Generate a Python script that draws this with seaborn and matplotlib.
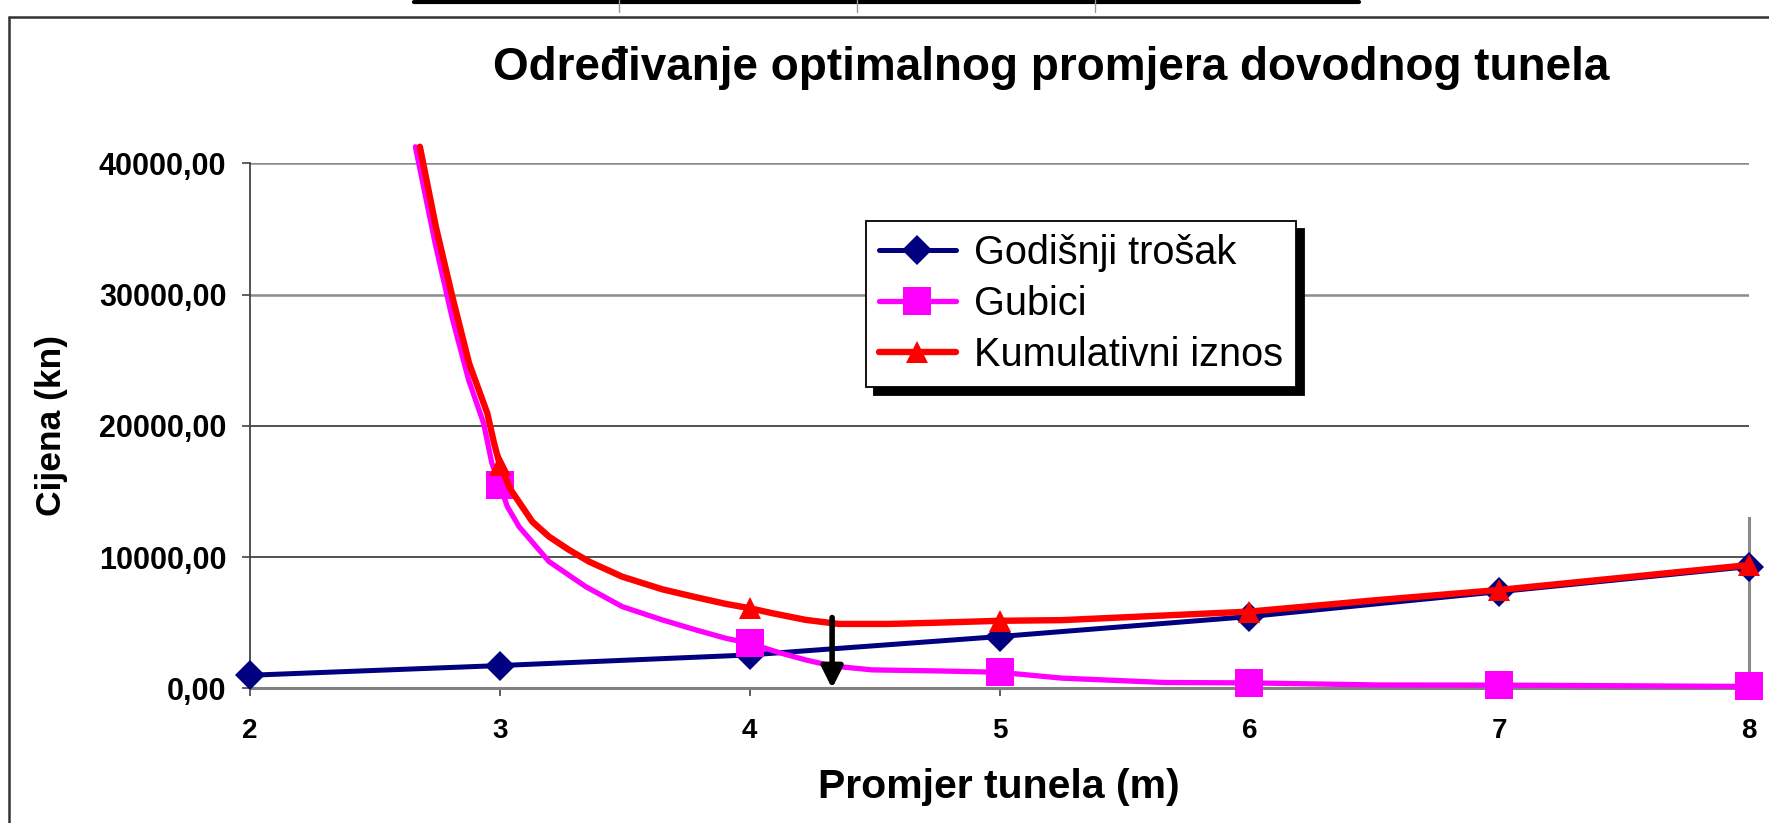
import numpy as np
import matplotlib
matplotlib.use('Agg')
import matplotlib.pyplot as plt
from matplotlib.lines import Line2D
from matplotlib.ticker import FuncFormatter
import seaborn as sns

# ── DATA ─────────────────────────────────────────────────────────────────────
# line vertices (Excel smoothed curve); markers sit on the integer diameters
promjer_trosak = [2, 3, 4, 5, 6, 7, 8]
godisnji_trosak = [1000, 1740, 2550, 3950, 5470, 7370, 9280]

promjer_gubici = [2.662, 2.741, 2.808, 2.875, 2.935, 2.968, 3.0, 3.03, 3.077,
                  3.197, 3.344, 3.49, 3.65, 3.784, 3.904, 4.0, 4.117, 4.224,
                  4.33, 4.49, 4.757, 5.0, 5.25, 5.66, 6.0, 6.52, 7.0, 8.0]
gubici = [41260, 33910, 28320, 23500, 20200, 17160, 15500, 13850, 12320,
          9660, 7750, 6230, 5220, 4460, 3820, 3440, 2730, 2170,
          1710, 1410, 1330, 1230, 780, 450, 420, 260, 250, 150]

promjer_kumul = [2.680, 2.744, 2.810, 2.877, 2.950, 2.977, 3.0, 3.044, 3.130,
                 3.197, 3.277, 3.357, 3.49, 3.65, 3.784, 3.904, 4.0, 4.09,
                 4.224, 4.357, 4.557, 4.757, 5.0, 5.25, 6.0, 6.52, 7.0, 8.0]
kumulativni = [41260, 35160, 29830, 24760, 20950, 18670, 17030, 15120, 12700,
               11560, 10550, 9660, 8510, 7550, 6950, 6440, 6110, 5730,
               5220, 4910, 4910, 5010, 5150, 5200, 5850, 6740, 7500, 9400]

SERIES = ['Godišnji trošak', 'Gubici', 'Kumulativni iznos']
X_TICKS = [2, 3, 4, 5, 6, 7, 8]
Y_TICKS = [0, 10000, 20000, 30000, 40000]

# optimum marked with the arrow
OPT_X = 4.33
OPT_TOP = 5400

# ── STYLE ────────────────────────────────────────────────────────────────────
sns.set_theme(style='white')
plt.rcParams['font.family'] = ['Liberation Sans', 'DejaVu Sans']
plt.rcParams.update({'text.color': 'black', 'axes.labelcolor': 'black',
                     'xtick.color': 'black', 'ytick.color': 'black'})

W, H = 1769, 823
fig = plt.figure(figsize=(W / 100, H / 100), dpi=100)
ax = fig.add_axes([250 / W, 1 - 688.4 / H, (1749 - 250) / W, (688.4 - 163.3) / H])


def on_integers(xs):
    return [i for i, v in enumerate(xs) if float(v).is_integer()]


sns.lineplot(x=promjer_trosak, y=godisnji_trosak, ax=ax, color='#000080', lw=3.6,
             marker='D', markersize=15, markeredgewidth=0, label=SERIES[0],
             markevery=on_integers(promjer_trosak), clip_on=False, zorder=3)
sns.lineplot(x=promjer_gubici, y=gubici, ax=ax, color='#FF00FF', lw=3.8,
             marker='s', markersize=20, markeredgewidth=0, label=SERIES[1],
             markevery=on_integers(promjer_gubici), clip_on=False, zorder=4)
sns.lineplot(x=promjer_kumul, y=kumulativni, ax=ax, color='#FF0000', lw=4.6,
             marker='^', markersize=16, markeredgewidth=0, label=SERIES[2],
             markevery=on_integers(promjer_kumul), clip_on=False, zorder=5)

ax.annotate('', xy=(OPT_X, 0), xytext=(OPT_X, OPT_TOP),
            arrowprops=dict(arrowstyle='-|>', color='black', lw=4,
                            mutation_scale=32, shrinkA=0, shrinkB=0),
            zorder=6, annotation_clip=False)

# ── AXES ─────────────────────────────────────────────────────────────────────
ax.set_xlim(2, 8)
ax.set_ylim(0, 40000)
ax.set_xticks(X_TICKS)
ax.set_yticks(Y_TICKS)
ax.yaxis.set_major_formatter(FuncFormatter(lambda v, p: f'{v:.2f}'.replace('.', ',')))
ax.set_xlabel('')
ax.set_ylabel('')

ax.grid(axis='y', lw=1.0)
for val, gl in zip(Y_TICKS, ax.get_ygridlines()):
    if val >= 30000:
        gl.set_color('#8a8a8a')
        gl.set_linewidth(1.8)
    else:
        gl.set_color('#222222')
        gl.set_linewidth(1.1)

ax.tick_params(axis='y', direction='out', length=6, width=1.2, color='#444444',
               pad=11, labelsize=22, left=True)
ax.tick_params(axis='x', direction='out', length=6, width=1.2, color='#444444',
               pad=15, labelsize=20, bottom=True)
for lab in ax.get_xticklabels() + ax.get_yticklabels():
    lab.set_fontweight('bold')

ax.spines['top'].set_visible(False)
ax.spines['left'].set_color('#444444')
ax.spines['left'].set_linewidth(1.3)
ax.spines['bottom'].set_color('#808080')
ax.spines['bottom'].set_linewidth(2.2)
ax.spines['right'].set_color('#8a8a8a')
ax.spines['right'].set_linewidth(2.2)
ax.spines['right'].set_bounds(0, 13000)

leg = ax.legend(loc='upper left', bbox_to_anchor=(866 / W, 1 - 221 / H),
                bbox_transform=fig.transFigure, fontsize=28.6, frameon=True,
                fancybox=False, framealpha=1, edgecolor='black',
                borderaxespad=0, borderpad=0.32, handlelength=1.95,
                handletextpad=0.45, labelspacing=0.33, numpoints=1,
                shadow={'ox': 6, 'oy': -6, 'color': 'black', 'alpha': 1})
leg.get_frame().set_linewidth(1.3)
leg.set_zorder(10)

# ── TEXTS ────────────────────────────────────────────────────────────────────
fig.text(1051 / W, 1 - 68 / H, 'Određivanje optimalnog promjera dovodnog tunela',
         ha='center', va='center', fontsize=33, fontweight='bold')
fig.text(999 / W, 1 - 787 / H, 'Promjer tunela (m)',
         ha='center', va='center', fontsize=29.5, fontweight='bold')
fig.text(51 / W, 1 - 425 / H, 'Cijena (kn)', rotation=90,
         ha='center', va='center', fontsize=25.5, fontweight='bold')

# ── FRAME (chart border + remnant of table above) ───────────────────────────
fig.add_artist(Line2D([9 / W, 9 / W], [0, 1 - 17 / H], transform=fig.transFigure,
                      color='#333333', lw=1.8))
fig.add_artist(Line2D([9 / W, 1], [1 - 17 / H, 1 - 17 / H], transform=fig.transFigure,
                      color='#333333', lw=1.8))
fig.add_artist(Line2D([414 / W, 1359 / W], [1 - 2 / H, 1 - 2 / H],
                      transform=fig.transFigure, color='black', lw=3))
for px in [619, 857, 1095]:
    fig.add_artist(Line2D([px / W, px / W], [1, 1 - 12 / H],
                          transform=fig.transFigure, color='#999999', lw=1))

fig.savefig('out.png', dpi=100, facecolor='white')
plt.close(fig)
